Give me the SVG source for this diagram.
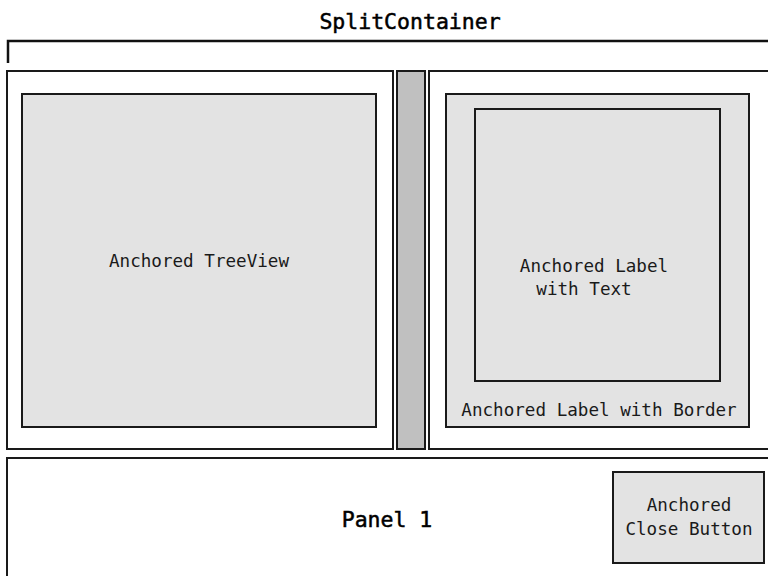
<svg xmlns="http://www.w3.org/2000/svg" width="768" height="576" viewBox="0 0 768 576">
<style>
.box{stroke:#1a1a1a;stroke-width:2}
.w{fill:#ffffff}
.g{fill:#e3e3e3}
.s{fill:#c0c0c0}
.t{font-family:"DejaVu Sans Mono","Liberation Mono",monospace;font-size:17.6px;fill:#1a1a1a;text-anchor:middle}
.big{font-family:"DejaVu Sans Mono","Liberation Mono",monospace;font-size:21.5px;fill:#000;stroke:#000;stroke-width:0.5;text-anchor:middle}
</style>
<rect width="768" height="576" fill="#ffffff"/>
<g id="splitcontainer">
<text class="big" x="410" y="29">SplitContainer</text>
<path d="M8 63 V41 H768" fill="none" stroke="#111" stroke-width="2.5"/>
</g>
<g id="left-panel"><rect class="box w" x="7" y="71" width="386" height="378"/></g>
<g id="splitter"><rect class="box s" x="397" y="71" width="28" height="378"/></g>
<g id="right-panel"><rect class="box w" x="429" y="71" width="345" height="378"/></g>
<g id="treeview"><rect class="box g" x="22" y="94" width="354" height="333"/>
<text class="t" x="199" y="267">Anchored TreeView</text></g>
<g id="label-border"><rect class="box g" x="446" y="94" width="303" height="333"/>
<text class="t" x="599" y="416">Anchored Label with Border</text></g>
<g id="label-text"><rect class="box g" x="475" y="109" width="245" height="272"/>
<text class="t" x="594" y="272">Anchored Label</text>
<text class="t" x="584" y="295">with Text</text></g>
<g id="panel1"><rect class="box w" x="7" y="458" width="770" height="130"/>
<text class="big" x="387" y="527">Panel 1</text></g>
<g id="close-button"><rect class="box g" x="613" y="472" width="151" height="91"/>
<text class="t" x="689" y="511">Anchored</text>
<text class="t" x="689" y="535">Close Button</text></g>
<g id="connectors"/>
</svg>
